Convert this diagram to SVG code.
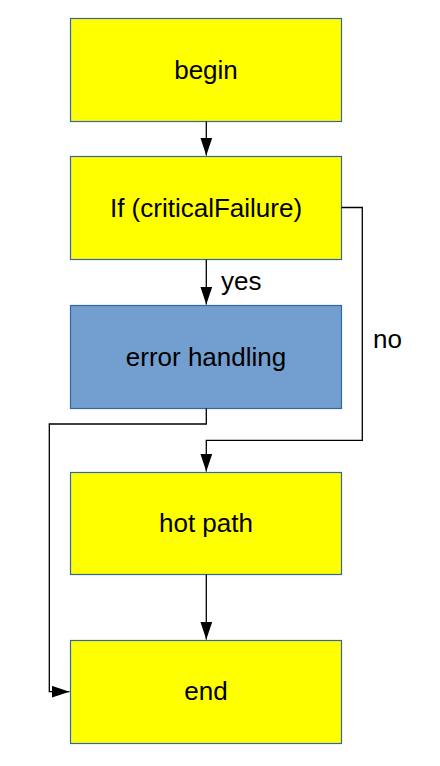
<svg xmlns="http://www.w3.org/2000/svg" width="440" height="766" viewBox="0 0 440 766">
<style>
.box{fill:#ffff00;stroke:#3465a4;stroke-width:1.2}
.blue{fill:#729fcf}
.t{font-family:"Liberation Sans",Arial,sans-serif;font-size:26px;fill:#000;text-anchor:middle}
.l{font-family:"Liberation Sans",Arial,sans-serif;font-size:26px;fill:#000}
.c{fill:none;stroke:#000;stroke-width:1.3}
</style>
<defs>
<marker id="a" viewBox="0 0 18 12" refX="18" refY="6" markerWidth="18" markerHeight="12" markerUnits="userSpaceOnUse" orient="auto">
<path d="M0,0 L18,6 L0,12 z" fill="#000"/>
</marker>
</defs>
<g id="n-begin"><rect class="box" x="70.5" y="18.5" width="271" height="103"/><text class="t" x="206" y="79">begin</text></g>
<g id="n-if"><rect class="box" x="70.5" y="156.5" width="271" height="103"/><text class="t" x="206" y="217">If (criticalFailure)</text></g>
<g id="n-error"><rect class="box blue" x="70.5" y="305.5" width="271" height="103"/><text class="t" x="206" y="366">error handling</text></g>
<g id="n-hot"><rect class="box" x="70.5" y="472.5" width="271" height="102"/><text class="t" x="206" y="532">hot path</text></g>
<g id="n-end"><rect class="box" x="70.5" y="640.5" width="271" height="103"/><text class="t" x="206" y="700">end</text></g>
<g id="connectors">
<path class="c" d="M206.3,121.5 V155.5" marker-end="url(#a)"/>
<path class="c" d="M206.3,259.5 V304.5" marker-end="url(#a)"/>
<text class="l" x="221" y="290">yes</text>
<path class="c" d="M341.5,207.5 H362.3 V440.3 H206.3 V471.5" marker-end="url(#a)"/>
<text class="l" x="373" y="348">no</text>
<path class="c" d="M206.3,408.5 V424 H49.3 V691.7 H69.5" marker-end="url(#a)"/>
<path class="c" d="M206.3,574.5 V639.5" marker-end="url(#a)"/>
</g>
</svg>
